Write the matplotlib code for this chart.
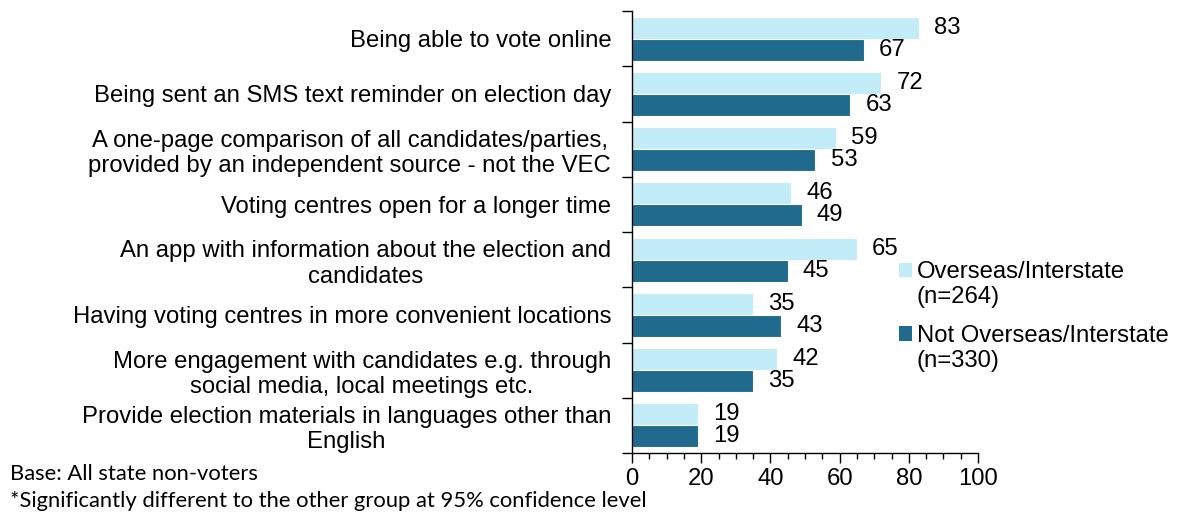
import numpy as np
import matplotlib
matplotlib.use("Agg")
import matplotlib.pyplot as plt
from matplotlib.patches import Patch, Rectangle
from matplotlib.legend_handler import HandlerPatch
from matplotlib.ticker import MultipleLocator

categories = [
    "Being able to vote online",
    "Being sent an SMS text reminder on election day",
    "A one-page comparison of all candidates/parties,\nprovided by an independent source - not the VEC",
    "Voting centres open for a longer time",
    "An app with information about the election and\ncandidates",
    "Having voting centres in more convenient locations",
    "More engagement with candidates e.g. through\nsocial media, local meetings etc.",
    "Provide election materials in languages other than\nEnglish",
]
overseas = [83, 72, 59, 46, 65, 35, 42, 19]
not_overseas = [67, 63, 53, 49, 45, 43, 35, 19]
series_labels = ["Overseas/Interstate\n(n=264)", "Not Overseas/Interstate\n(n=330)"]

light = "#C2ECF8"
dark = "#206A8E"

plt.rcParams["font.family"] = ["Liberation Sans", "DejaVu Sans"]
fs = 17.2

fig = plt.figure(figsize=(11.77, 5.18), dpi=100)
ax = fig.add_axes([632 / 1177, 1 - 453 / 518, (978 - 632) / 1177, (453 - 11) / 518])

y = np.arange(len(categories))
h = 0.4
ax.barh(y - h / 2, overseas, height=h, color=light, edgecolor="white", linewidth=0.8)
ax.barh(y + h / 2, not_overseas, height=h, color=dark, edgecolor="white", linewidth=0.8)

for i in range(len(categories)):
    ax.annotate(str(overseas[i]), (overseas[i], y[i] - h / 2), xytext=(11, 0),
                textcoords="offset points", va="center", ha="left", fontsize=fs)
    ax.annotate(str(not_overseas[i]), (not_overseas[i], y[i] + h / 2), xytext=(11, 0),
                textcoords="offset points", va="center", ha="left", fontsize=fs)

ax.set_xlim(0, 100)
ax.set_ylim(len(categories) - 0.5, -0.5)
ax.xaxis.set_major_locator(MultipleLocator(20))
ax.xaxis.set_minor_locator(MultipleLocator(5))
ax.tick_params(axis="x", which="major", length=7, width=1, labelsize=fs, pad=4)
ax.tick_params(axis="x", which="minor", length=4, width=1)

ax.set_yticks(np.arange(-0.5, len(categories)), [])
ax.set_yticks(y, categories, minor=True)
ax.tick_params(axis="y", which="major", length=7, width=1)
ax.tick_params(axis="y", which="minor", length=0, pad=15, labelsize=fs)
for lab in ax.get_yticklabels(minor=True):
    lab.set_multialignment("center")

for s in ["top", "right"]:
    ax.spines[s].set_visible(False)
for s in ["left", "bottom"]:
    ax.spines[s].set_linewidth(1)


# legend square sits next to the first line of the two-line label
def top_square(legend, orig_handle, xdescent, ydescent, width, height, fontsize):
    return Rectangle((-xdescent, -ydescent + 0.62 * fontsize), width, height)


handles = [Patch(facecolor=light, edgecolor="none"), Patch(facecolor=dark, edgecolor="none")]
fig.legend(handles, series_labels, loc="upper left", bbox_to_anchor=(899 / 1177, 1 - 261 / 518),
           frameon=False, fontsize=fs, handlelength=0.55, handleheight=0.55,
           handletextpad=0.2, labelspacing=0.68, borderaxespad=0, borderpad=0,
           handler_map={Patch: HandlerPatch(patch_func=top_square)})

fig.text(10 / 1177, 1 - 480 / 518, "Base: All state non-voters", fontsize=15.8,
         family="Lato", va="baseline", ha="left")
fig.text(10 / 1177, 1 - 507 / 518,
         "*Significantly different to the other group at 95% confidence level",
         fontsize=15.8, family="Lato", va="baseline", ha="left")

fig.savefig("out.png", dpi=100)
